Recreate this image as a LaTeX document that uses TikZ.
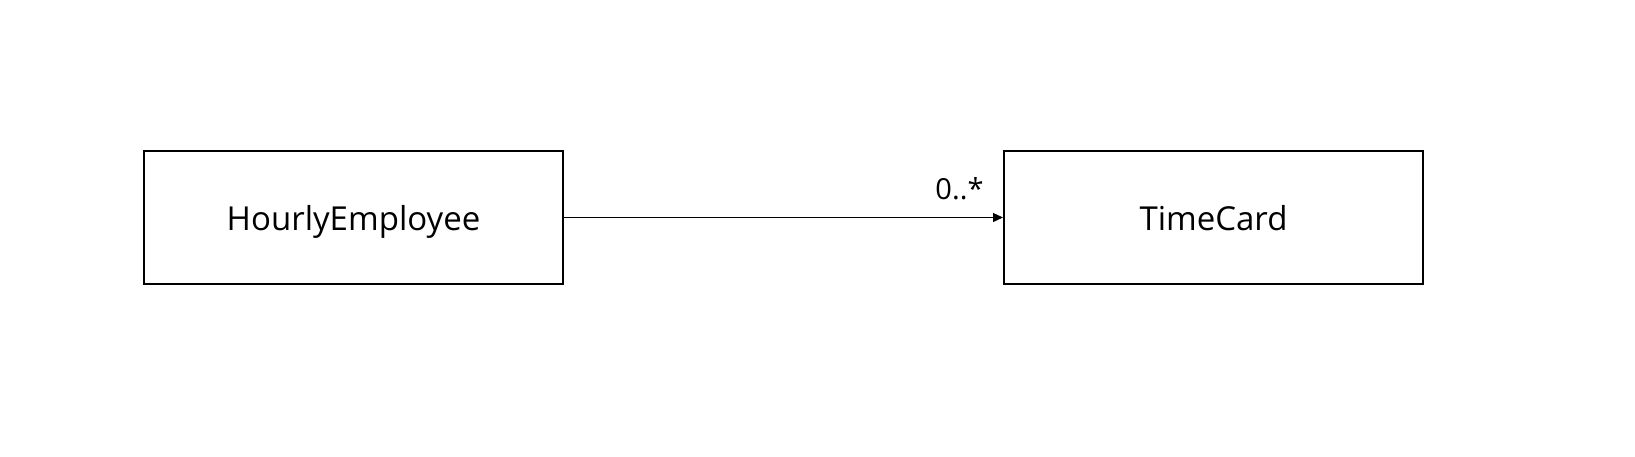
\documentclass[tikz,border=0pt]{standalone}
\usepackage{fontspec}
\setmainfont{Open Sans}
\usetikzlibrary{positioning}
\usetikzlibrary{arrows.meta}
\tikzset{
	every path/.style={line width=1pt},
	classbox/.style={draw,line width=2pt,minimum width=419pt,minimum height=133pt,inner sep=0pt,
		text height=26pt,text depth=1pt,font=\fontsize{33}{38}\selectfont},
	assoc/.style={-{Triangle[length=10pt,width=9pt]},line width=1.2pt},
}

\begin{document}
\begin{tikzpicture}[x=1pt,y=-1pt]
	\useasboundingbox (0,0) rectangle (1635,456);
	
	% classes...................
	\node [classbox] (hourly) at (353.5,217.5) {HourlyEmployee};
	\node [classbox, right=439pt of hourly] (timecard) {TimeCard};
	
	% association...............
	\draw [assoc] (hourly.east) -- (timecard.west);
	\node [anchor=base east, inner sep=0pt, font=\fontsize{29}{34}\selectfont] (mult)
		at ([xshift=-19pt,yshift=18pt]timecard.west) {0..*};
\end{tikzpicture}
\end{document}
